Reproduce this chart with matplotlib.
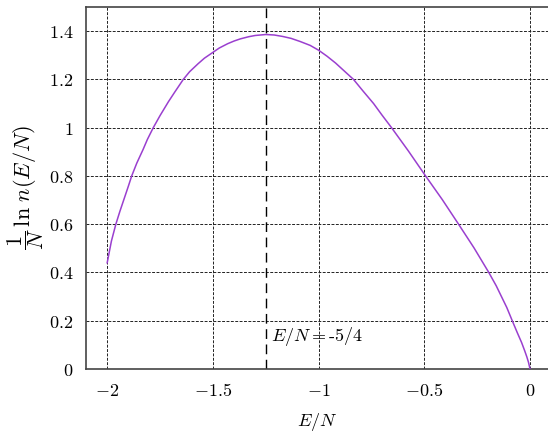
import numpy as np
import matplotlib
matplotlib.use("Agg")
import matplotlib.pyplot as plt

plt.rcParams['mathtext.fontset'] = 'cm'

# curve
e_per_n = [-2.00, -1.98, -1.959, -1.94, -1.92, -1.90, -1.884, -1.86, -1.83,
           -1.81, -1.782, -1.75, -1.71, -1.68, -1.64, -1.61, -1.57, -1.54,
           -1.50, -1.47, -1.43, -1.40, -1.37, -1.33, -1.30, -1.25, -1.21,
           -1.17, -1.13, -1.087, -1.04, -1.00, -0.96, -0.92, -0.88, -0.835,
           -0.79, -0.74, -0.70, -0.655, -0.575, -0.494, -0.415, -0.338, -0.265,
           -0.195, -0.16, -0.135, -0.11, -0.084, -0.06, -0.04, -0.025,
           -0.015, -0.007, 0.0]
entropy = [0.44, 0.53, 0.60, 0.653, 0.705, 0.757, 0.80, 0.853, 0.91,
           0.951, 1.00, 1.05, 1.108, 1.148, 1.20, 1.232, 1.265, 1.288,
           1.312, 1.33, 1.348, 1.359, 1.368, 1.377, 1.382, 1.386, 1.384,
           1.378, 1.370, 1.357, 1.341, 1.321, 1.296, 1.268, 1.236, 1.20,
           1.152, 1.10, 1.052, 1.00, 0.903, 0.80, 0.702, 0.60, 0.502,
           0.40, 0.345, 0.30, 0.255, 0.20, 0.15, 0.11, 0.075,
           0.05, 0.027, 0.0]

x_ticks = [-2, -1.5, -1, -0.5, 0]
x_tick_labels = ['$-2$', '$-1.5$', '$-1$', '$-0.5$', '$0$']
y_ticks = [0, 0.2, 0.4, 0.6, 0.8, 1.0, 1.2, 1.4]
y_tick_labels = ['$0$', '$0.2$', '$0.4$', '$0.6$', '$0.8$', '$1$', '$1.2$', '$1.4$']

e_max = -1.25

fig = plt.figure(figsize=(5.48, 4.38), dpi=100)
ax = fig.add_axes([0.157, 0.1575, 0.843, 0.8265])

ax.plot(e_per_n, entropy, color='#9a3fcf', lw=1.1, zorder=3)
ax.axvline(e_max, color='black', lw=1.0, linestyle=(0, (7, 4)), zorder=2)
ax.text(-1.225, 0.135, r'$E/N{=}$-5/4', fontsize=13, family='cmr10',
        ha='left', va='center')

ax.set_xlim(-2.1, 0.085)
ax.set_ylim(0, 1.5)
ax.set_xticks(x_ticks)
ax.set_xticklabels(x_tick_labels, fontsize=13)
ax.set_yticks(y_ticks)
ax.set_yticklabels(y_tick_labels, fontsize=13)
ax.tick_params(length=0, pad=9)
ax.grid(True, color='#222222', lw=0.7, linestyle=(0, (3, 1.5)))

ax.spines['right'].set_visible(False)
for s in ['left', 'bottom', 'top']:
    ax.spines[s].set_color('#444444')
    ax.spines[s].set_linewidth(1.2)

ax.set_xlabel('$E/N$', fontsize=13, labelpad=8)
ax.set_ylabel(r'$\dfrac{1}{N}\,\ln\, n(E/N)$', fontsize=16, labelpad=2)

fig.savefig('out.png', dpi=100)
